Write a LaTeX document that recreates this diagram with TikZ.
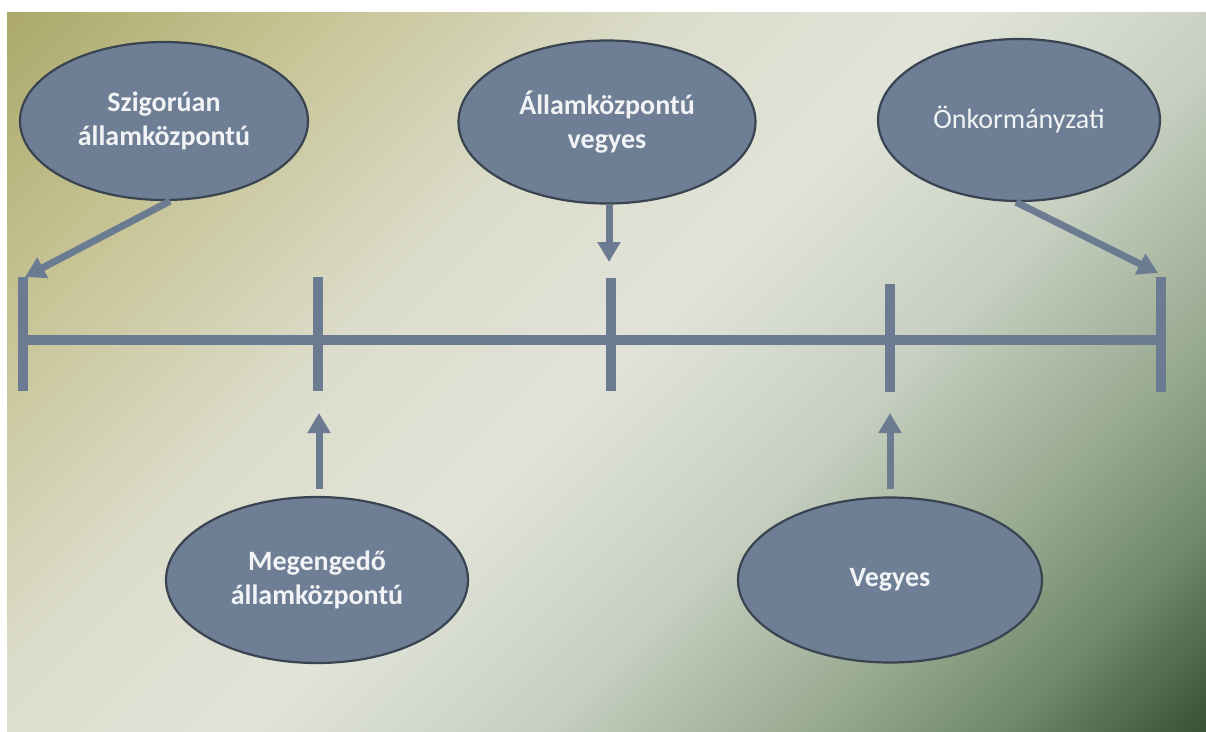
\documentclass[tikz,border=0pt]{standalone}
\usepackage{fontspec}
\setmainfont{Carlito}
\usetikzlibrary{shapes.geometric,arrows.meta}
\definecolor{bgA}{HTML}{ADAA6C}
\definecolor{bgB}{HTML}{C5C393}
\definecolor{bgC}{HTML}{DCDDCC}
\definecolor{bgD}{HTML}{E1E3D9}
\definecolor{bgE}{HTML}{C8D0C2}
\definecolor{bgF}{HTML}{98AA90}
\definecolor{bgG}{HTML}{6F896A}
\definecolor{bgH}{HTML}{3A5636}
\definecolor{ellfill}{HTML}{6D7E95}
\definecolor{elldraw}{HTML}{3A4450}
\definecolor{barcol}{HTML}{6B7B91}
\definecolor{txtcol}{HTML}{F2F3F5}
\pgfdeclarehorizontalshading{bgsh}{100bp}{color(0bp)=(bgA); color(15bp)=(bgA); color(25.5bp)=(bgB); color(39.5bp)=(bgC); color(50bp)=(bgD); color(60.5bp)=(bgE); color(71bp)=(bgF); color(78bp)=(bgG); color(85bp)=(bgH); color(100bp)=(bgH)}
\tikzset{
  oval/.style={ellipse, draw=elldraw, line width=2.2pt, fill=ellfill, inner sep=0pt,
    text=txtcol, font=\fontsize{28}{34}\selectfont\bfseries, align=center},
  bar/.style={draw=barcol, line width=10pt},
  arr/.style={draw=barcol, line width=7pt, -{Triangle[width=22pt,length=20pt]}}
}
\begin{document}
\begin{tikzpicture}[x=1pt,y=-1pt]
\useasboundingbox (0,0) rectangle (1206,731);
\fill[white] (0,0) rectangle (1206,731);
\shade[shading=bgsh, shading angle=-45] (7,12) rectangle (1206,731);
% timeline
\coordinate (L) at (23,340);
\coordinate (R) at (1161,340);
\coordinate (t1a) at (23,277); \coordinate (t1b) at (23,391);
\coordinate (t2a) at (318,277); \coordinate (t2b) at (318,391);
\coordinate (t3a) at (611,278); \coordinate (t3b) at (611,391);
\coordinate (t4a) at (890,284); \coordinate (t4b) at (890,392);
\coordinate (t5a) at (1161,277); \coordinate (t5b) at (1161,392);
\draw[bar] (L) -- (R);
\foreach \i in {1,...,5} { \draw[bar] (t\i a) -- (t\i b); }
% ovals
\node[oval, minimum width=288pt, minimum height=158pt] (e1) at (164,121) {Szigorúan\\államközpontú};
\node[oval, minimum width=297pt, minimum height=163pt] (e2) at (607,122) {Államközpontú\\vegyes};
\node[oval, minimum width=282pt, minimum height=162pt, font=\fontsize{28}{34}\selectfont] (e3) at (1019,120) {Önkormányzati};
\node[oval, minimum width=302pt, minimum height=166pt] (e4) at (317,580) {Megengedő\\államközpontú};
\node[oval, minimum width=304pt, minimum height=165pt] (e5) at (890,580) {Vegyes};
% arrows
\coordinate (a1) at (25,277);
\coordinate (a2) at (609,262);
\coordinate (a3) at (1158,273);
\coordinate (a4) at (319,413);
\coordinate (a5) at (890,413);
\draw[arr] ([xshift=6pt]e1.south) -- (a1);
\draw[arr] ([xshift=2pt]e2.south) -- (a2);
\draw[arr] ([xshift=-3pt]e3.south) -- (a3);
\draw[arr] ([xshift=2pt,yshift=7pt]e4.north) -- (a4);
\draw[arr] ([yshift=7pt]e5.north) -- (a5);
\end{tikzpicture}
\end{document}
